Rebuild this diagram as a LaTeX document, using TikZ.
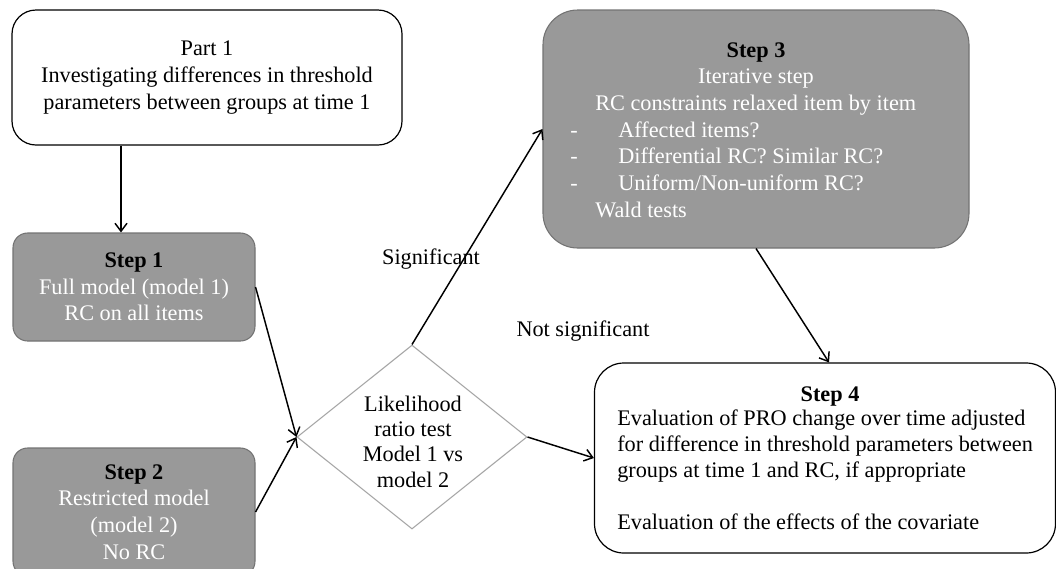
\documentclass[tikz,border=0pt]{standalone}
\usepackage{fontspec}
\setmainfont{Liberation Serif}
\usetikzlibrary{shapes.geometric,arrows.meta}
\definecolor{boxgray}{RGB}{153,153,153}
\definecolor{boxedge}{RGB}{115,115,115}
\definecolor{diaedge}{RGB}{165,165,165}
\begin{document}
\begin{tikzpicture}[x=0.75pt,y=-0.75pt,
  every node/.style={font=\fontsize{16.7}{20}\selectfont},
  whitebox/.style={draw=black, line width=0.9pt, fill=white, align=center, inner sep=0pt},
  graybox/.style={draw=boxedge, line width=0.8pt, fill=boxgray, text=white, align=center, inner sep=0pt},
  ttl/.style={font=\fontsize{16.7}{20}\selectfont\bfseries, text=black},
  lineL/.style={anchor=base west, inner sep=0pt, text=white},
  lineC/.style={anchor=base, inner sep=0pt},
  arr/.style={draw=black, line width=1.1pt, -{Straight Barb[length=6pt,width=9pt]}},
  lbl/.style={inner sep=0pt}]
\useasboundingbox (0,0) rectangle (1056,568);

% boxes
\node[whitebox, rounded corners=18pt, minimum width=292.5pt, minimum height=101.25pt] (part1) at (207,77.5)
  {Part 1\\Investigating differences in threshold\\parameters between groups at time 1};
\node[graybox, rounded corners=11pt, minimum width=181.5pt, minimum height=81pt] (step1) at (134,287)
  {\textcolor{black}{\bfseries Step 1}\\Full model (model 1)\\RC on all items};
\node[graybox, rounded corners=11pt, minimum width=181.5pt, minimum height=96pt] (step2) at (134,512)
  {\textcolor{black}{\bfseries Step 2}\\Restricted model\\(model 2)\\No RC};
\node[draw=diaedge, line width=0.8pt, fill=white, diamond, inner sep=0pt, minimum width=172.5pt, minimum height=138pt] (lrt) at (412,437) {};
\node[align=center, font=\fontsize{16.7}{19}\selectfont] (lrttext) at (413,441.5) {Likelihood\\ratio test\\Model 1 vs\\model 2};
\node[graybox, rounded corners=26pt, minimum width=319.5pt, minimum height=178.5pt] (step3) at (756,129) {};
\node[whitebox, rounded corners=22pt, minimum width=345.75pt, minimum height=142.5pt] (step4) at (825,458) {};

% step 3 text
\node[lineC, ttl] (s3a) at (756,57) {Step 3};
\node[lineC, text=white] (s3b) at (756,83) {Iterative step};
\node[lineL] (s3c) at (595,110) {RC constraints relaxed item by item};
\node[lineL] (s3d1) at (570,137) {-};
\node[lineL] (s3d) at (618,137) {Affected items?};
\node[lineL] (s3e1) at (570,163) {-};
\node[lineL] (s3e) at (618,163) {Differential RC? Similar RC?};
\node[lineL] (s3f1) at (570,190) {-};
\node[lineL] (s3f) at (618,190) {Uniform/Non-uniform RC?};
\node[lineL] (s3g) at (595,217) {Wald tests};

% step 4 text
\node[lineC, ttl] (s4a) at (830,401) {Step 4};
\node[lineL, text=black] (s4b) at (617,425) {Evaluation of PRO change over time adjusted};
\node[lineL, text=black] (s4c) at (617,451) {for difference in threshold parameters between};
\node[lineL, text=black] (s4d) at (617,477) {groups at time 1 and RC, if appropriate};
\node[lineL, text=black] (s4e) at (617,529) {Evaluation of the effects of the covariate};

% labels
\node[lbl] (sig) at (431,259) {Significant};
\node[lbl] (nsig) at (583,331) {Not significant};

% connectors
\coordinate (c1) at (121,0);
\coordinate (c2) at (829,0);
\draw[arr] (part1.south -| c1) -- (step1.north -| c1);
\draw[arr] (step1.east) -- (lrt.west);
\draw[arr] (step2.east) -- (lrt.west);
\draw[arr] (lrt.north) -- (step3.west);
\draw[arr] (lrt.east) -- (step4.west);
\draw[arr] (step3.south) -- (step4.north -| c2);
\end{tikzpicture}
\end{document}
